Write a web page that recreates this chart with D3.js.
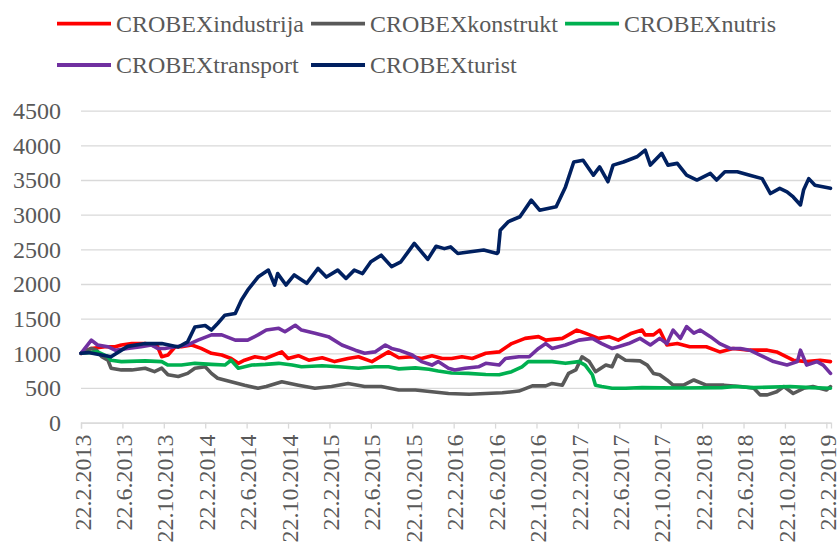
<!DOCTYPE html>
<html>
<head>
<meta charset="utf-8">
<script src="https://cdn.jsdelivr.net/npm/d3@7"></script>
<style>
  html, body { margin: 0; padding: 0; background: #fff; }
  svg { display: block; }
</style>
</head>
<body>
<svg id="chart"></svg>
<script>
// ── Data (x = months since 22.2.2013, y = index value) ──
const seriesNames  = ['CROBEXindustrija', 'CROBEXkonstrukt', 'CROBEXnutris', 'CROBEXtransport', 'CROBEXturist'];
const seriesColors = ['#FF0000', '#595959', '#00B050', '#7030A0', '#002060'];

const industrija = [
  [0,1000],[1,1070],[2.3,1095],[3.3,1095],[3.9,1120],[4.9,1140],[6.2,1140],[7.4,1095],[7.8,950],[8.4,975],
  [9.1,1095],[9.7,1095],[10.7,1120],[11.6,1070],[12.6,1000],[13.6,975],[14.5,925],[15.2,855],[15.8,900],[16.8,950],
  [17.8,925],[19.4,1020],[20,925],[21,965],[22,900],[23.3,935],[24.5,880],[25.8,925],[26.8,950],[28.1,880],
  [29.7,1020],[30.7,935],[32,950],[32.9,925],[33.9,965],[34.9,925],[35.8,925],[36.8,950],[37.8,925],[39.1,1000],
  [40.4,1020],[41.6,1140],[42.9,1215],[44.2,1240],[44.9,1190],[46.5,1215],[47.9,1335],[48.7,1290],[50,1215],[51,1240],
  [51.9,1190],[53.2,1290],[54.2,1335],[54.5,1265],[55.3,1265],[55.9,1335],[56.6,1120],[57.6,1140],[58.8,1095],[60.4,1095],
  [61.7,1020],[63,1070],[64.6,1045],[66.3,1045],[67.2,1020],[68.8,900],[70.1,880],[71.4,900],[72.4,880]
];
const konstrukt = [
  [0,1000],[1,1070],[1.5,1045],[2,950],[2.6,900],[2.9,785],[3.9,760],[4.9,760],[6.2,785],[7.1,735],
  [7.8,785],[8.4,690],[9.4,665],[10.3,710],[11,785],[12,805],[12.6,710],[13.2,640],[14.5,590],[15.8,540],
  [17.1,495],[17.9,520],[19.4,590],[21,540],[22.6,495],[24.2,520],[25.8,565],[27.4,520],[29,520],[30.7,470],
  [32.3,470],[33.9,445],[35.5,420],[37.5,410],[39.1,420],[40.7,430],[42.3,455],[43.6,530],[44.9,530],[45.5,565],
  [46.5,540],[47.1,710],[47.8,760],[48.4,950],[49.1,880],[49.7,735],[50.7,830],[51.3,805],[51.8,975],[52.6,900],
  [54,890],[54.7,830],[55.3,710],[55.9,690],[56.6,615],[57.2,540],[58.2,540],[59.2,615],[60.4,540],[62.1,540],
  [63.7,520],[65,495],[65.6,400],[66.3,400],[67.2,445],[67.9,520],[68.8,420],[69.8,495],[70.7,520],[72,470],[72.4,520]
];
const nutris = [
  [0,1000],[1.6,1020],[2.6,950],[2.9,900],[3.9,880],[6.2,890],[7.8,880],[8.4,830],[9.7,830],[11,855],
  [12.6,840],[13.9,830],[14.5,900],[15.2,785],[16.5,830],[17.8,840],[19.1,855],[20.4,830],[21.3,805],[23.3,820],
  [24.9,805],[26.8,785],[28.4,805],[29.7,805],[30.7,775],[32.3,790],[33.6,770],[34.5,745],[35.8,715],[37.4,710],
  [39.1,695],[40.4,690],[41.6,735],[42.6,805],[43.2,880],[44.2,880],[45.5,880],[46.8,855],[48.1,880],[48.7,830],
  [49.4,690],[49.7,540],[50.3,520],[51.3,495],[52.6,495],[54.2,505],[58,500],[61.9,505],[63.2,520],[65,505],
  [68.5,520],[70.5,505],[72.4,495]
];
const transport = [
  [0,1000],[1,1190],[1.6,1120],[2.6,1095],[3.3,1045],[4.5,1070],[5.8,1095],[6.8,1120],[7.4,1070],[8.1,1070],
  [9.1,1095],[10.3,1120],[11.3,1190],[12.6,1265],[13.6,1265],[14.9,1190],[16.1,1190],[17.1,1265],[17.9,1335],[19.1,1360],
  [19.7,1310],[20.7,1405],[21.3,1335],[22.6,1290],[23.9,1240],[25.2,1120],[26.5,1045],[27.4,1000],[28.4,1020],[29.4,1120],
  [30,1070],[30.7,1045],[32,975],[32.9,880],[33.9,830],[34.5,880],[35.5,785],[36.1,760],[37.1,785],[38.4,805],
  [39.1,855],[40.4,830],[41,925],[42.3,950],[43.3,950],[44.2,1070],[44.9,1140],[45.5,1070],[46.8,1120],[48.1,1190],
  [49.4,1215],[50.3,1140],[51.3,1070],[51.9,1095],[52.9,1140],[54,1215],[55,1120],[55.9,1215],[56.6,1140],[57.2,1335],
  [57.9,1215],[58.5,1385],[59.2,1290],[59.8,1335],[60.8,1240],[61.7,1140],[62.7,1070],[63.7,1070],[64.6,1045],[65.6,975],
  [66.9,880],[68.2,830],[69.2,880],[69.5,1045],[70.1,830],[71.1,880],[71.7,830],[72.4,710]
];
const turist = [
  [0,1000],[0.7,1010],[2.9,950],[4.5,1100],[6.2,1140],[7.8,1140],[9.4,1090],[10.3,1165],[11,1380],[12,1400],
  [12.6,1335],[13.2,1430],[13.9,1550],[14.9,1575],[15.5,1770],[16.1,1910],[17.1,2100],[18.1,2200],[18.7,1985],[19,2150],
  [19.8,1985],[20.6,2130],[21.8,2010],[22.9,2225],[23.7,2100],[24.8,2200],[25.6,2080],[26.4,2200],[27.2,2150],[28,2320],
  [29,2415],[30,2250],[30.9,2320],[32.2,2585],[33.5,2355],[34.3,2545],[35.1,2510],[35.7,2535],[36.4,2440],[36.9,2450],
  [38.9,2490],[40.2,2440],[40.3,2460],[40.5,2775],[41.3,2900],[42.4,2970],[43.5,3210],[44.3,3065],[45.9,3115],[46.8,3400],
  [47.6,3760],[48.5,3785],[49.5,3570],[50.1,3690],[50.9,3475],[51.4,3715],[52.4,3760],[53.7,3835],[54.5,3930],[55,3715],
  [56.1,3885],[56.7,3715],[57.6,3740],[58.5,3570],[59.5,3500],[60.8,3595],[61.4,3500],[62.2,3620],[63.4,3620],[64.6,3570],
  [65.8,3520],[66.6,3305],[67.5,3380],[68.2,3330],[68.8,3255],[69.5,3140],[69.8,3355],[70.3,3520],[70.9,3425],[72.4,3380]
];
const seriesData = [industrija, konstrukt, nutris, transport, turist];

const xTickLabels = [
  '22.2.2013','22.6.2013','22.10.2013','22.2.2014','22.6.2014','22.10.2014','22.2.2015','22.6.2015','22.10.2015',
  '22.2.2016','22.6.2016','22.10.2016','22.2.2017','22.6.2017','22.10.2017','22.2.2018','22.6.2018','22.10.2018','22.2.2019'
];
const xTickMonths = xTickLabels.map((_, i) => i * 4);
const yTicks = [0, 500, 1000, 1500, 2000, 2500, 3000, 3500, 4000, 4500];

// ── Layout ──────────────────────────────────────────
const W = 839, H = 544;
const FONT = '"Liberation Serif", "Times New Roman", serif';
const TEXT = '#595959';
const GRID = '#D9D9D9';

const svg = d3.select('#chart').attr('width', W).attr('height', H);

const x = d3.scaleLinear().domain([0, 72.45]).range([81, 831]);
const y = d3.scaleLinear().domain([0, 4500]).range([422.6, 110.7]);

// ── Grid lines ──────────────────────────────────────
svg.append('g')
  .attr('transform', 'translate(81,0)')
  .call(d3.axisLeft(y).tickValues(yTicks).tickSize(-750).tickFormat(''))
  .call(g => {
    g.select('.domain').remove();
    g.selectAll('line').attr('stroke', GRID).attr('stroke-width', 1.3);
  });

// y labels
svg.append('g')
  .selectAll('text')
  .data(yTicks)
  .join('text')
    .attr('x', 61)
    .attr('y', d => y(d))
    .attr('dy', '0.35em')
    .attr('text-anchor', 'end')
    .attr('fill', TEXT)
    .attr('font-family', FONT)
    .attr('font-size', 24)
    .text(d => d);

// ── X axis ─────────────────────────────────────────
svg.append('g')
  .attr('transform', `translate(0,${y(0)})`)
  .call(d3.axisBottom(x).tickValues(xTickMonths).tickSize(6).tickPadding(12)
    .tickFormat((d, i) => xTickLabels[i]))
  .call(g => {
    g.select('.domain').attr('stroke', GRID).attr('stroke-width', 1.3);
    g.selectAll('.tick line').attr('stroke', GRID).attr('stroke-width', 1.3);
    g.selectAll('.tick text')
      .attr('fill', TEXT)
      .attr('font-family', FONT)
      .attr('font-size', 24)
      .attr('text-anchor', 'end')
      .attr('transform', 'rotate(-90)')
      .attr('x', -12)
      .attr('y', 0)
      .attr('dy', '0.38em');
  });

// ── Lines ───────────────────────────────────────────
const line = d3.line()
  .x(d => x(d[0]))
  .y(d => y(d[1]));

seriesData.forEach((data, i) => {
  svg.append('path')
    .datum(data)
    .attr('fill', 'none')
    .attr('stroke', seriesColors[i])
    .attr('stroke-width', 3.6)
    .attr('stroke-linejoin', 'round')
    .attr('stroke-linecap', 'round')
    .attr('d', line);
});

// ── Legend (3-column grid) ──────────────────────────
const legend = svg.append('g');
const LINE_LEN = 54, GAP = 5, PAD = 7;
const rowsY = [23.7, 65];

const items = legend.selectAll('g')
  .data(seriesNames)
  .join('g');

items.append('line')
  .attr('x1', 0).attr('x2', LINE_LEN)
  .attr('stroke', (d, i) => seriesColors[i])
  .attr('stroke-width', 3.8);

items.append('text')
  .attr('x', LINE_LEN + GAP)
  .attr('dy', '0.35em')
  .attr('fill', TEXT)
  .attr('font-family', FONT)
  .attr('font-size', 24)
  .text(d => d);

let maxW = 0;
items.selectAll('text').each(function () { maxW = Math.max(maxW, this.getComputedTextLength()); });
const colW = LINE_LEN + GAP + maxW + PAD;

items.attr('transform', (d, i) =>
  `translate(${57 + (i % 3) * colW},${rowsY[Math.floor(i / 3)]})`);
</script>
</body>
</html>
